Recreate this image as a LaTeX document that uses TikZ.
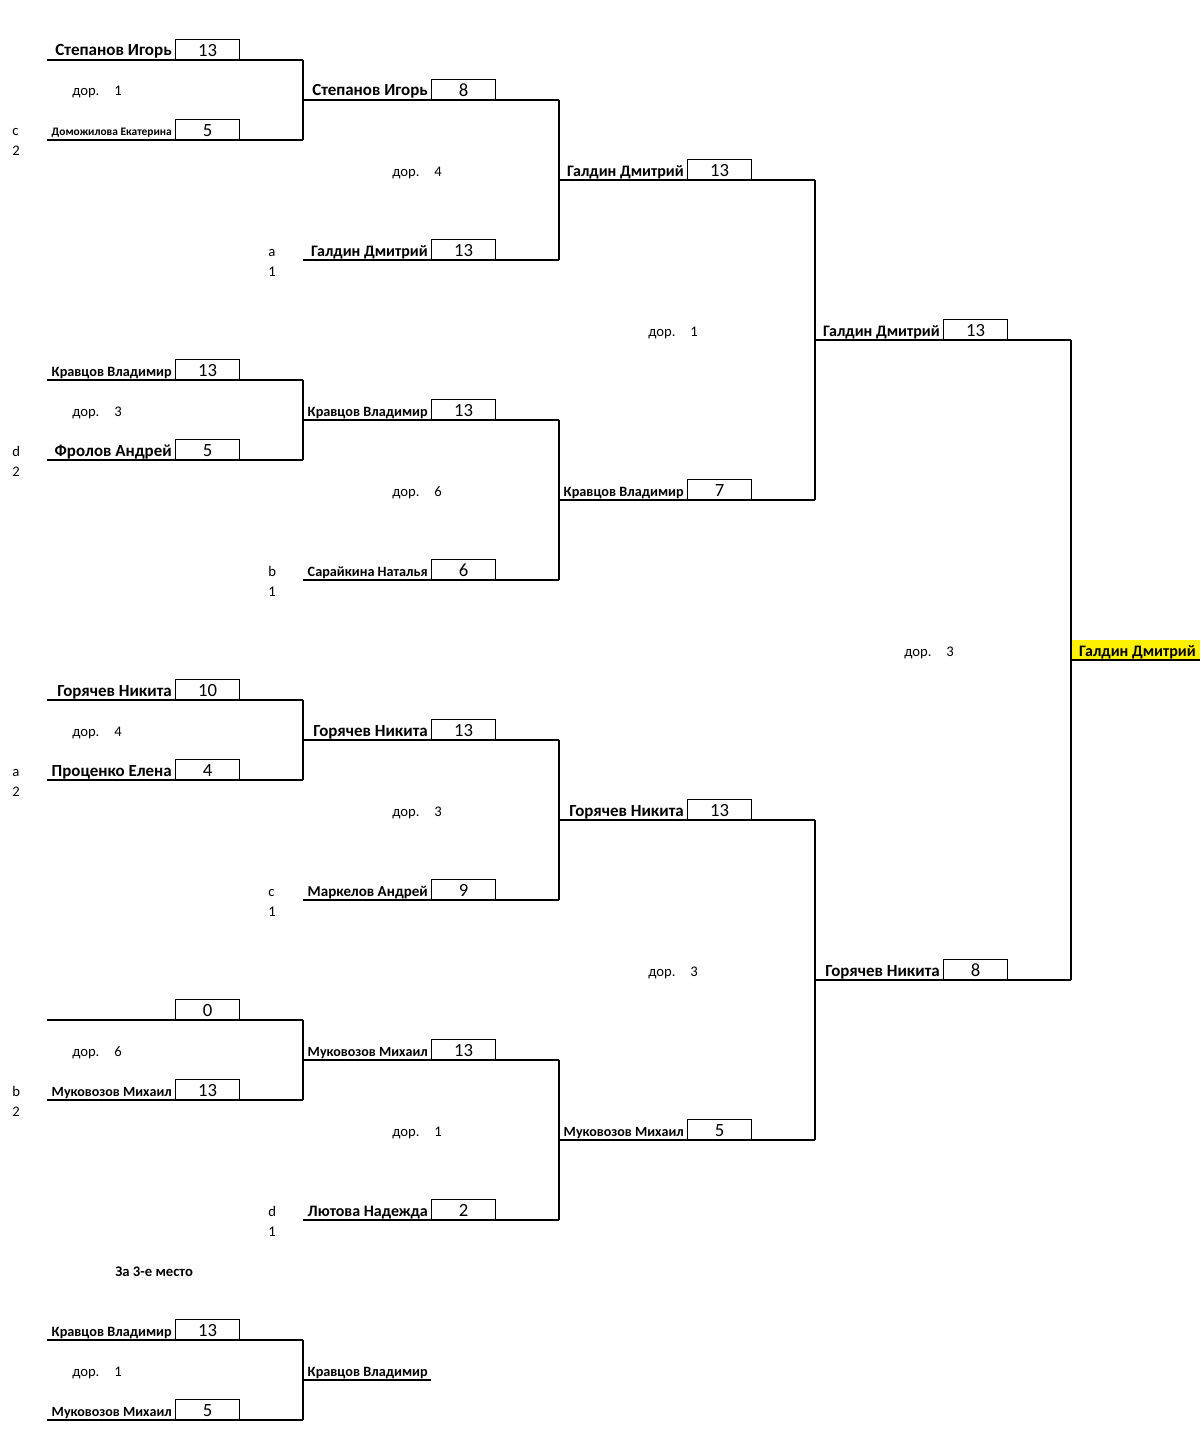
\documentclass[tikz,border=0pt]{standalone}
\usepackage{fontspec}
\usepackage{graphicx}
\setmainfont{Carlito}
\newsavebox\fitbox
\newcommand\fitname[2][12]{\sbox\fitbox{\fontsize{#1}{14}\selectfont\bfseries #2}\ifdim\wd\fitbox>90pt \resizebox{90pt}{!}{\usebox\fitbox}\else\usebox\fitbox\fi}
\tikzset{
  ln/.style={line width=0.9pt, black},
  scorebox/.style={draw, line width=0.9pt, anchor=south west, minimum width=48pt, minimum height=15pt, inner sep=0pt, text height=10.5pt, text depth=0pt, font=\fontsize{14}{16}\selectfont},
  namelbl/.style={anchor=base east, inner sep=0pt},
  small/.style={anchor=base west, inner sep=0pt, font=\fontsize{11}{13}\selectfont},
}
% [#1 size], #2 id, #3 x0, #4 y, #5 name, #6 score
\newcommand\entry[6][12]{%
  \draw[ln] (#3,#4) coordinate (#2s) -- (#3+256,#4) coordinate (#2e);
  \node[scorebox] (#2sc) at (#3+128,#4) {#6};
  \node[namelbl] (#2n) at (#3+125,#4-4) {\fitname[#1]{#5}};
}
\newcommand\dor[3]{%
  \node[small] (dor#1#2) at (#1,#2+5) {дор.};
  \node[small] (dorn#1#2) at (#1+42,#2+5) {#3};
}
\newcommand\lbl[4]{%
  \node[small] (lblA#1#2) at (#1,#2+5) {#3};
  \node[small] (lblB#1#2) at (#1,#2+25) {#4};
}
\begin{document}
\begin{tikzpicture}[x=0.75pt,y=-0.75pt]
\useasboundingbox (0,0) rectangle (1200,1441);
% round 1
\entry[12.8]{a1}{47}{60}{Степанов Игорь}{13}
\entry{a2}{47}{140}{Доможилова Екатерина}{5}
\entry{b1}{47}{380}{Кравцов Владимир}{13}
\entry[12.7]{b2}{47}{460}{Фролов Андрей}{5}
\entry[12.7]{c1}{47}{700}{Горячев Никита}{10}
\entry[12.7]{c2}{47}{780}{Проценко Елена}{4}
\entry{d1}{47}{1020}{}{0}
\entry{d2}{47}{1100}{Муковозов Михаил}{13}
% round 2
\entry[12.7]{e1}{303}{100}{Степанов Игорь}{8}
\entry{e2}{303}{260}{Галдин Дмитрий}{13}
\entry{e3}{303}{420}{Кравцов Владимир}{13}
\entry{e4}{303}{580}{Сарайкина Наталья}{6}
\entry[12.7]{e5}{303}{740}{Горячев Никита}{13}
\entry{e6}{303}{900}{Маркелов Андрей}{9}
\entry{e7}{303}{1060}{Муковозов Михаил}{13}
\entry{e8}{303}{1220}{Лютова Надежда}{2}
% round 3
\entry{f1}{559}{180}{Галдин Дмитрий}{13}
\entry{f2}{559}{500}{Кравцов Владимир}{7}
\entry[12.7]{f3}{559}{820}{Горячев Никита}{13}
\entry{f4}{559}{1140}{Муковозов Михаил}{5}
% round 4
\entry{g1}{815}{340}{Галдин Дмитрий}{13}
\entry[12.7]{g2}{815}{980}{Горячев Никита}{8}
% final
\fill[yellow] (1071,640) rectangle (1200,660);
\draw[ln] (1071,660) coordinate (hs) -- (1200,660) coordinate (he);
\node[namelbl] (hn) at (1196,656) {\fitname{Галдин Дмитрий}};
% third place
\node[small, font=\fontsize{11}{13}\selectfont\bfseries] (third) at (115,1276) {За 3-е место};
\entry{t1}{47}{1340}{Кравцов Владимир}{13}
\entry{t2}{47}{1420}{Муковозов Михаил}{5}
\draw[ln] (303,1380) coordinate (tws) -- (431,1380) coordinate (twe);
\node[namelbl] (twn) at (428,1376) {\fitname{Кравцов Владимир}};
% connectors
\foreach \p/\q in {a1e/a2e, b1e/b2e, c1e/c2e, d1e/d2e, e1e/e2e, e3e/e4e, e5e/e6e, e7e/e8e, f1e/f2e, f3e/f4e, g1e/g2e, t1e/t2e}
  \draw[ln] (\p) -- (\q);
% дор. labels
\dor{72}{91}{1}
\dor{72}{411}{3}
\dor{72}{731}{4}
\dor{72}{1051}{6}
\dor{72}{1371}{1}
\dor{392}{171}{4}
\dor{392}{491}{6}
\dor{392}{811}{3}
\dor{392}{1131}{1}
\dor{648}{331}{1}
\dor{648}{971}{3}
\dor{904}{651}{3}
% letter labels
\lbl{12}{131}{c}{2}
\lbl{12}{451}{d}{2}
\lbl{12}{771}{a}{2}
\lbl{12}{1091}{b}{2}
\lbl{268}{251}{a}{1}
\lbl{268}{571}{b}{1}
\lbl{268}{891}{c}{1}
\lbl{268}{1211}{d}{1}
\end{tikzpicture}
\end{document}
